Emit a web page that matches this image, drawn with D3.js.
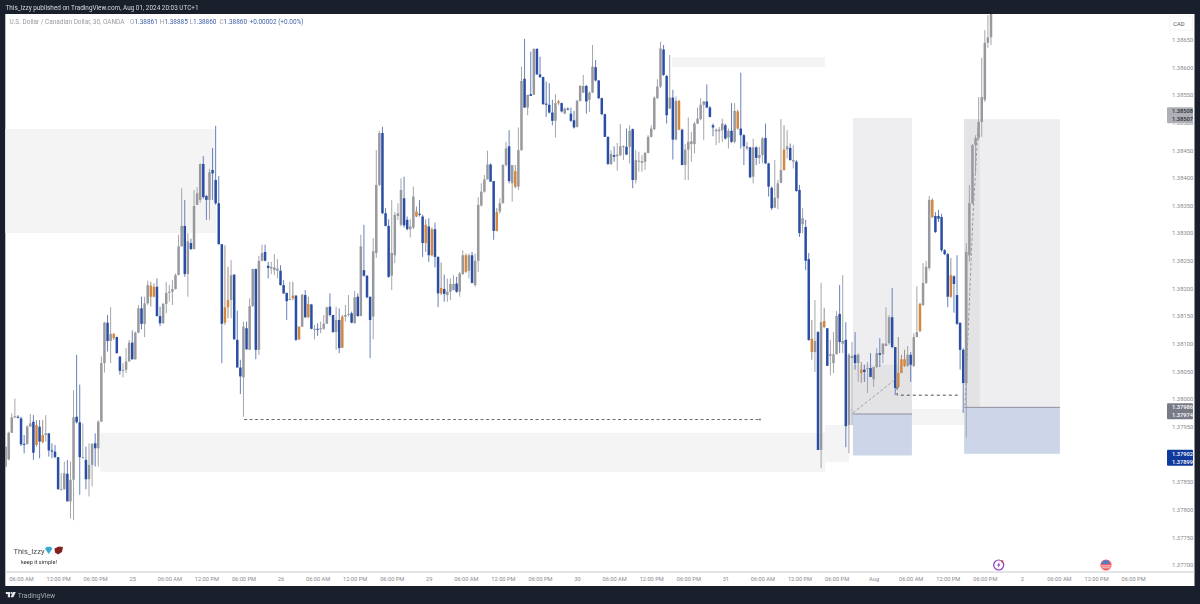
<!DOCTYPE html>
<html>
<head>
<meta charset="utf-8">
<script src="https://cdn.jsdelivr.net/npm/d3@7"></script>
<style>
  html, body { margin: 0; padding: 0; background: #1a1f2c; }
  svg { display: block; filter: blur(0.3px); }
  text { font-family: Roboto, sans-serif; }
</style>
</head>
<body>
<svg id="chart" width="1200" height="604"></svg>
<script>
// USD/CAD 30m candles, in points above 1.37000
const basePrice = 1.37
const pointSize = 0.00001

const opens = [
  878,891,939,967,968,965,919,919,950,959,917,950,922,935,938,907,905,895,836,837,
  865,815,854,968,958,893,890,855,881,920,911,959,1065,1138,1105,1110,1112,1077,1051,1053,
  1068,1102,1072,1120,1164,1136,1173,1185,1185,1203,1150,1137,1172,1192,1194,1199,1224,1276,1313,1226,
  1282,1271,1351,1360,1425,1367,1360,1414,1396,1354,1280,1138,1166,1179,1225,1107,1057,1039,1128,1089,
  1168,1235,1089,1250,1266,1241,1236,1233,1232,1232,1206,1192,1179,1182,1187,1108,1131,1188,1148,1171,
  1126,1127,1126,1127,1136,1167,1152,1121,1143,1093,1149,1152,1155,1137,1185,1150,1233,1223,1185,1149,
  1264,1387,1481,1336,1313,1223,1260,1331,1315,1363,1324,1307,1310,1330,1335,1330,1282,1312,1260,1307,
  1257,1191,1199,1188,1194,1197,1209,1194,1226,1230,1232,1260,1206,1250,1350,1375,1397,1424,1394,1304,
  1339,1354,1423,1457,1390,1384,1384,1450,1579,1527,1551,1550,1633,1587,1582,1534,1532,1518,1503,1535,
  1535,1516,1525,1516,1504,1492,1539,1554,1566,1541,1554,1600,1576,1544,1515,1474,1425,1441,1439,1441,
  1456,1456,1456,1488,1396,1429,1427,1429,1445,1474,1488,1544,1565,1632,1584,1525,1545,1469,1487,1487,
  1423,1451,1461,1461,1498,1506,1532,1538,1527,1495,1484,1484,1486,1495,1473,1485,1465,1489,1489,1477,
  1453,1455,1402,1455,1436,1441,1472,1426,1382,1346,1363,1391,1414,1451,1454,1429,1429,1378,1316,1311,
  1253,1085,1085,1121,908,1130,1128,1078,1065,1081,1154,1100,1107,953,1074,1080,1065,1047,1053,1054,
  1056,1036,1058,1083,1081,1096,1101,1148,1094,1022,1047,1060,1060,1080,1060,1112,1123,1170,1210,1237,
  1329,1331,1331,1329,1269,1262,1185,1222,1188,1138,1089,1029,1260,1354,1459,1472,1501,1541,1644,1654
]
const closes = [
  914,939,967,969,966,918,918,950,956,903,953,923,935,938,907,905,895,837,837,866,
  815,854,967,958,895,895,855,881,919,911,959,1065,1138,1105,1118,1118,1083,1051,1053,1068,
  1102,1072,1120,1164,1136,1173,1206,1205,1203,1150,1137,1172,1192,1194,1199,1224,1276,1313,1226,1285,
  1271,1349,1372,1425,1365,1360,1410,1408,1354,1280,1136,1166,1179,1224,1108,1057,1041,1131,1090,1168,
  1235,1089,1250,1264,1250,1237,1239,1238,1236,1206,1191,1177,1181,1187,1107,1131,1189,1148,1172,1127,
  1127,1126,1128,1136,1166,1152,1121,1143,1092,1149,1152,1154,1138,1184,1150,1276,1223,1184,1143,1267,
  1387,1481,1336,1313,1221,1264,1333,1336,1378,1314,1307,1312,1366,1339,1333,1282,1315,1260,1307,1257,
  1191,1201,1190,1194,1208,1208,1194,1227,1260,1260,1260,1210,1250,1351,1375,1397,1424,1393,1304,1338,
  1354,1423,1453,1394,1423,1412,1450,1575,1527,1550,1548,1633,1587,1582,1533,1532,1518,1503,1535,1538,
  1520,1525,1524,1503,1491,1539,1566,1566,1538,1554,1601,1576,1544,1515,1474,1425,1443,1438,1442,1457,
  1457,1442,1485,1396,1432,1431,1430,1445,1474,1489,1545,1565,1634,1586,1513,1545,1469,1539,1539,1423,
  1451,1465,1466,1498,1507,1532,1538,1527,1510,1491,1487,1487,1498,1471,1485,1465,1521,1520,1477,1457,
  1457,1401,1455,1436,1441,1471,1426,1384,1345,1364,1390,1414,1451,1457,1432,1432,1376,1300,1327,1250,
  1107,1109,1105,908,1139,1141,1060,1081,1081,1150,1103,1105,951,1080,1078,1065,1080,1053,1049,1056,
  1040,1058,1083,1080,1100,1100,1148,1094,1020,1047,1072,1072,1080,1062,1112,1121,1172,1210,1239,1360,
  1360,1302,1326,1269,1262,1185,1224,1208,1136,1089,1029,1266,1354,1459,1472,1501,1546,1644,1654,1705
]
const highs = [
  914,941,974,1001,971,968,935,953,973,971,962,962,962,971,938,920,917,895,866,887,
  890,887,1016,1080,1026,956,914,920,920,938,962,1077,1140,1152,1166,1119,1113,1077,1065,1092,
  1107,1124,1122,1170,1185,1185,1214,1212,1209,1218,1167,1174,1212,1206,1215,1227,1297,1381,1360,1300,
  1290,1378,1383,1426,1439,1369,1416,1454,1494,1403,1280,1278,1239,1251,1225,1160,1071,1140,1140,1182,
  1236,1236,1259,1279,1279,1248,1248,1262,1253,1242,1215,1192,1212,1212,1188,1131,1189,1197,1185,1172,
  1134,1137,1140,1152,1167,1191,1152,1167,1164,1152,1170,1188,1158,1196,1191,1297,1315,1224,1185,1291,
  1450,1485,1492,1345,1325,1360,1338,1354,1399,1402,1330,1325,1384,1348,1360,1333,1325,1327,1310,1319,
  1258,1247,1225,1218,1218,1224,1221,1230,1269,1263,1263,1266,1263,1365,1390,1405,1449,1426,1394,1345,
  1363,1425,1465,1486,1423,1423,1491,1601,1651,1550,1628,1634,1634,1619,1583,1574,1571,1541,1551,1541,
  1536,1527,1527,1527,1521,1541,1568,1586,1568,1556,1640,1613,1577,1545,1516,1475,1450,1457,1463,1497,
  1459,1489,1495,1489,1450,1447,1441,1447,1477,1495,1547,1578,1646,1640,1586,1622,1559,1547,1541,1489,
  1461,1509,1483,1501,1527,1544,1539,1569,1530,1498,1489,1492,1507,1498,1489,1535,1535,1523,1590,1479,
  1465,1456,1471,1457,1456,1474,1498,1427,1384,1432,1396,1506,1495,1486,1462,1459,1432,1387,1345,1324,
  1264,1143,1179,1123,1210,1165,1128,1107,1121,1159,1206,1224,1139,1083,1103,1121,1083,1067,1062,1067,
  1083,1058,1092,1110,1101,1166,1152,1201,1094,1112,1080,1089,1096,1085,1119,1204,1174,1246,1250,1367,
  1363,1338,1342,1335,1271,1264,1255,1224,1260,1138,1092,1282,1387,1461,1477,1546,1617,1667,1694,1730
]
const lows = [
  875,889,939,965,965,915,902,917,950,890,914,893,920,923,896,893,893,836,836,836,
  815,784,781,956,827,893,837,824,842,878,878,959,1048,1086,1065,1107,1082,1044,1039,1047,
  1068,1071,1071,1119,1126,1112,1170,1167,1184,1149,1132,1136,1155,1176,1170,1198,1224,1276,1221,1185,
  1270,1271,1351,1355,1362,1324,1324,1360,1351,1279,1065,1134,1146,1146,1107,1057,1009,968,1089,1089,
  1167,1072,1080,1249,1249,1218,1226,1224,1218,1205,1190,1143,1179,1179,1105,1107,1130,1146,1146,1126,
  1108,1114,1119,1125,1136,1149,1120,1089,1083,1092,1140,1149,1137,1137,1149,1150,1221,1182,1074,1108,
  1255,1385,1334,1312,1219,1197,1246,1324,1312,1310,1305,1292,1307,1329,1330,1257,1266,1248,1258,1238,
  1166,1188,1176,1176,1179,1197,1192,1185,1224,1228,1218,1209,1203,1230,1348,1373,1397,1393,1288,1303,
  1335,1354,1420,1390,1357,1381,1378,1449,1527,1513,1548,1550,1586,1580,1532,1510,1516,1495,1473,1532,
  1518,1515,1522,1501,1489,1491,1538,1553,1516,1519,1553,1574,1542,1513,1474,1423,1423,1429,1413,1439,
  1432,1441,1426,1381,1390,1411,1411,1414,1444,1473,1486,1542,1562,1584,1498,1525,1433,1468,1486,1423,
  1396,1396,1429,1444,1497,1504,1468,1526,1509,1475,1459,1463,1465,1469,1453,1463,1462,1487,1453,1423,
  1450,1399,1390,1423,1425,1426,1425,1366,1342,1345,1343,1390,1413,1435,1431,1417,1375,1293,1300,1233,
  1105,1071,1049,908,875,1128,1060,1043,1047,1081,1083,1083,913,902,953,1053,1031,1029,1031,1011,
  1040,1022,1056,1058,1065,1096,1098,1092,1007,1020,1047,1058,1058,1031,1058,1112,1121,1168,1208,1233,
  1327,1300,1320,1266,1260,1166,1183,1156,1134,1053,975,930,1248,1352,1409,1468,1474,1537,1635,1640
]
// bars the indicator paints orange
const orangeBars = [10,12,35,47,48,71,72,93,95,98,109,133,136,138,141,149,159,165,179,218,237,252,261,265,277,289,290,291,296,300,306]

const timeLabels = ["06:00 AM","12:00 PM","06:00 PM","25","06:00 AM","12:00 PM","06:00 PM","26","06:00 AM","12:00 PM","06:00 PM","29","06:00 AM","12:00 PM","06:00 PM","30","06:00 AM","12:00 PM","06:00 PM","31","06:00 AM","12:00 PM","06:00 PM","Aug","06:00 AM","12:00 PM","06:00 PM","2","06:00 AM","12:00 PM","06:00 PM"]
const timeTickBars = timeLabels.map((d, i) => 5 + i * 12)
const priceTicks = ["1.37700","1.37750","1.37800","1.37850","1.37900","1.37950","1.38000","1.38050","1.38100","1.38150","1.38200","1.38250","1.38300","1.38350","1.38400","1.38450","1.38500","1.38550","1.38600","1.38650"]

// shaded zones: [first bar, last bar, top points, bottom points]
const zones = [
  [-0.2, 68.1, 1488, 1300],
  [30.6, 265.3, 939, 868],
  [265.3, 273, 953, 886],
  [273, 310.6, 982, 953],
  [215.7, 265.3, 1618, 1600]
]
// long position tools: [first bar, last bar, target, entry, stop]
const positions = [
  [274.3, 293.4, 1508, 973, 898],
  [310.3, 341.3, 1506, 985, 901]
]
// running profit part of each tool: [first bar, last bar, top, bottom]
const runningProfit = [
  [274.3, 293.4, 1062, 973],
  [310.3, 315.4, 1506, 985]
]
const sweepLine = [[77.2, 963], [244.2, 963]]
const sweepLine2 = [[288.6, 1022], [288.6, 1007], [308.3, 1007]]
const pathA = [[274.3, 975], [288.6, 1038]]
const pathB = [[310.6, 988], [313.1, 1324], [314.8, 1492]]
// price tags: [top label, bottom label, centre points, fill, text colour]
const priceTags = [
  ["1.38508", "1.38507", 1513, "#aeb0b7", "#2b2b30"],
  ["1.37986", "1.37974", 978, "#787b86", "#ffffff"],
  ["1.37902", "1.37899", 894, "#0f3a9c", "#ffffff"]
]

const legendTitle = "U.S. Dollar / Canadian Dollar, 30, OANDA"
const legendValues = [["O", "1.38861"], ["H", "1.38885"], ["L", "1.38860"], ["C", "1.38860"]]
const legendChange = "+0.00002 (+0.00%)"

const svg = d3.select("#chart")
const plot = { left: 5.3, right: 1194.5, top: 14, bottom: 586, axisLine: 572 }

const x = d3.scaleLinear().domain([0, 365]).range([5.6, 1133.1])
const y = d3.scaleLinear().domain([1.377, 1.3865]).range([565, 39.5])
const py = pts => y(basePrice + pts * pointSize)

svg.append("rect").attr("x", plot.left).attr("y", plot.top)
  .attr("width", plot.right - plot.left).attr("height", plot.bottom - plot.top).attr("fill", "#ffffff")

svg.append("clipPath").attr("id", "pane").append("rect")
  .attr("x", plot.left).attr("y", plot.top)
  .attr("width", plot.right - plot.left).attr("height", plot.axisLine - plot.top)

const pane = svg.append("g").attr("clip-path", "url(#pane)")

const drawBox = (g, x0, x1, top, bottom, fill) => g.append("rect")
  .attr("x", x(x0)).attr("width", x(x1) - x(x0))
  .attr("y", py(top)).attr("height", py(bottom) - py(top))
  .attr("fill", fill)

// zones
zones.forEach(z => drawBox(pane, z[0], z[1], z[2], z[3], "#f4f4f4"))

// position tools
positions.forEach(p => {
  drawBox(pane, p[0], p[1], p[2], p[3], "#eeeef1")
  drawBox(pane, p[0], p[1], p[3], p[4], "#cdd6e9")
})
runningProfit.forEach(r => drawBox(pane, r[0], r[1], r[2], r[3], "#e3e3e6"))

// candles
const candles = opens.map((o, i) => ({ i, o, c: closes[i], h: highs[i], l: lows[i], orange: orangeBars.includes(i) }))
const bodyColor = d => d.orange ? "#d4883f" : (d.c >= d.o ? "#98999e" : "#2a4ea3")
const wickColor = d => d.orange ? "#a08f80" : (d.c >= d.o ? "#a4a5aa" : "#6580bb")

pane.selectAll(".wick").data(candles).join("line")
  .attr("class", "wick")
  .attr("x1", d => x(d.i)).attr("x2", d => x(d.i))
  .attr("y1", d => py(d.h)).attr("y2", d => py(d.l))
  .attr("stroke", wickColor).attr("stroke-width", 1)

pane.selectAll(".body").data(candles).join("rect")
  .attr("class", "body")
  .attr("x", d => x(d.i) - 1.25).attr("width", 2.5)
  .attr("y", d => py(Math.max(d.o, d.c)))
  .attr("height", d => Math.max(1, Math.abs(py(d.o) - py(d.c))))
  .attr("fill", bodyColor)

// entry lines of the position tools
positions.forEach(p => pane.append("line")
  .attr("x1", x(p[0])).attr("x2", x(p[1]))
  .attr("y1", py(p[3])).attr("y2", py(p[3]))
  .attr("stroke", "#8b8f9a").attr("stroke-width", 1))

// dashed drawings
const line = d3.line().x(d => x(d[0])).y(d => py(d[1]))
const dashed = (pts, color, dash) => pane.append("path").attr("d", line(pts))
  .attr("fill", "none").attr("stroke", color).attr("stroke-width", 1).attr("stroke-dasharray", dash)
dashed(sweepLine, "#6b6d74", "3,2.5")
dashed(sweepLine2, "#4a4c52", "3,3")
dashed(pathA, "#a0a1a6", "3,2")
dashed(pathB, "#9a9ba0", "3,2")
pane.append("circle").attr("cx", x(sweepLine[1][0])).attr("cy", py(sweepLine[1][1])).attr("r", 1).attr("fill", "#777")

// axes
const xAxis = d3.axisBottom(x).tickValues(timeTickBars).tickSize(0).tickPadding(0)
  .tickFormat((d, i) => timeLabels[i])
const gx = svg.append("g").attr("transform", "translate(0,579)").call(xAxis)
gx.select(".domain").remove()
gx.selectAll("text").attr("dy", "0.35em").attr("y", 0).attr("font-size", 5.7)
  .attr("font-family", "Roboto, sans-serif").attr("fill", "#8a8a8f")

const yAxis = d3.axisRight(y).tickValues(priceTicks.map(Number)).tickSize(0).tickPadding(0)
  .tickFormat((d, i) => priceTicks[i])
const gy = svg.append("g").attr("transform", "translate(1172,0)").call(yAxis)
gy.select(".domain").remove()
gy.selectAll("text").attr("font-size", 5.9).attr("font-family", "Roboto, sans-serif").attr("fill", "#8a8a8f")

svg.append("line").attr("x1", plot.left).attr("x2", plot.right)
  .attr("y1", plot.axisLine).attr("y2", plot.axisLine)
  .attr("stroke", "#c9cacd").attr("stroke-width", 1.2)

// CAD box
svg.append("rect").attr("x", 1169.5).attr("y", 16).attr("width", 23).attr("height", 14)
  .attr("fill", "#fff").attr("stroke", "#eeeeee").attr("stroke-width", 0.6)
svg.append("text").attr("x", 1179).attr("y", 25.5).attr("text-anchor", "middle")
  .attr("font-size", 5.8).attr("fill", "#55565c").text("CAD")

// price tags
const tags = svg.selectAll(".tag").data(priceTags).join("g").attr("class", "tag")
  .attr("transform", d => `translate(1167,${py(d[2])})`)
tags.append("rect").attr("x", 0).attr("y", -8).attr("width", 26).attr("height", 16)
  .attr("rx", 1).attr("fill", d => d[3])
tags.append("text").attr("x", 5).attr("y", -2).attr("font-size", 5.7).attr("font-weight", 500)
  .attr("fill", d => d[4]).text(d => d[0])
tags.append("text").attr("x", 5).attr("y", 6).attr("font-size", 5.7).attr("font-weight", 500)
  .attr("fill", d => d[4]).text(d => d[1])

// header
svg.append("text").attr("x", 5.5).attr("y", 10.3).attr("font-size", 6.4).attr("fill", "#d8dadf")
  .text("This_Izzy published on TradingView.com, Aug 01, 2024 20:03 UTC+1")

// legend
svg.append("text").attr("x", 9.5).attr("y", 24.3).attr("font-size", 6.45).attr("fill", "#9a9ba2").text(legendTitle)
legendValues.forEach((v, i) => {
  const t = svg.append("text").attr("x", 130 + i * 29.8).attr("y", 24.3).attr("font-size", 6.45)
  t.append("tspan").attr("fill", "#9a9ba2").text(v[0])
  t.append("tspan").attr("fill", "#4460a8").text(v[1])
})
svg.append("text").attr("x", 249.5).attr("y", 24.3).attr("font-size", 6.45).attr("fill", "#4460a8").text(legendChange)

// signature
svg.append("text").attr("x", 13.4).attr("y", 553.5).attr("font-size", 7.6).attr("fill", "#4a4a50").text("This_Izzy")
svg.append("polygon").attr("points", "45,548.5 47,546.8 50.5,546.8 52.4,548.5 48.7,554").attr("fill", "#35aad6")
svg.append("polygon").attr("points", "54.5,548.5 59,546.5 63,547 62,552 58,554.5 55,552.5").attr("fill", "#85201f")
svg.append("text").attr("x", 21).attr("y", 564).attr("font-size", 5.6).attr("fill", "#333338").text("keep it simple!")

// event markers
const bolt = svg.append("g").attr("transform", "translate(998.7,565)")
bolt.append("circle").attr("r", 5).attr("fill", "#fff").attr("stroke", "#8c3fc4").attr("stroke-width", 1.2)
bolt.append("path").attr("d", "M1,-3 L-1.8,0.6 L-0.2,0.6 L-1,3 L1.8,-0.8 L0.2,-0.8 Z").attr("fill", "#8c3fc4")
bolt.append("circle").attr("cx", 3.6).attr("cy", -3.6).attr("r", 1.1).attr("fill", "#e8354a")

const flag = svg.append("g").attr("transform", "translate(1106,565)")
flag.append("circle").attr("r", 5.6).attr("fill", "#ef5a60")
flag.append("path").attr("d", "M-4.6,-1 A4.8,4.8 0 0 1 3,-3.8 L3,-1 Z").attr("fill", "#4a7fd0")
flag.append("rect").attr("x", -4.8).attr("y", 0.4).attr("width", 9.6).attr("height", 1).attr("fill", "#ffdcdc")
flag.append("rect").attr("x", -4.2).attr("y", 2.4).attr("width", 8.4).attr("height", 0.9).attr("fill", "#ffdcdc")

// TradingView footer
const logo = svg.append("g").attr("transform", "translate(5.8,592)").attr("fill", "#e6e7ea")
logo.append("path").attr("d", "M0,0 H4.2 V5.2 H2 V2 H0 Z")
logo.append("circle").attr("cx", 5.6).attr("cy", 1).attr("r", 1)
logo.append("path").attr("d", "M7,0 H10 L7.6,5.2 H4.8 Z")
svg.append("text").attr("x", 17.8).attr("y", 597.5).attr("font-size", 6.8).attr("fill", "#a8aab0").text("TradingView")
</script>
</body>
</html>
